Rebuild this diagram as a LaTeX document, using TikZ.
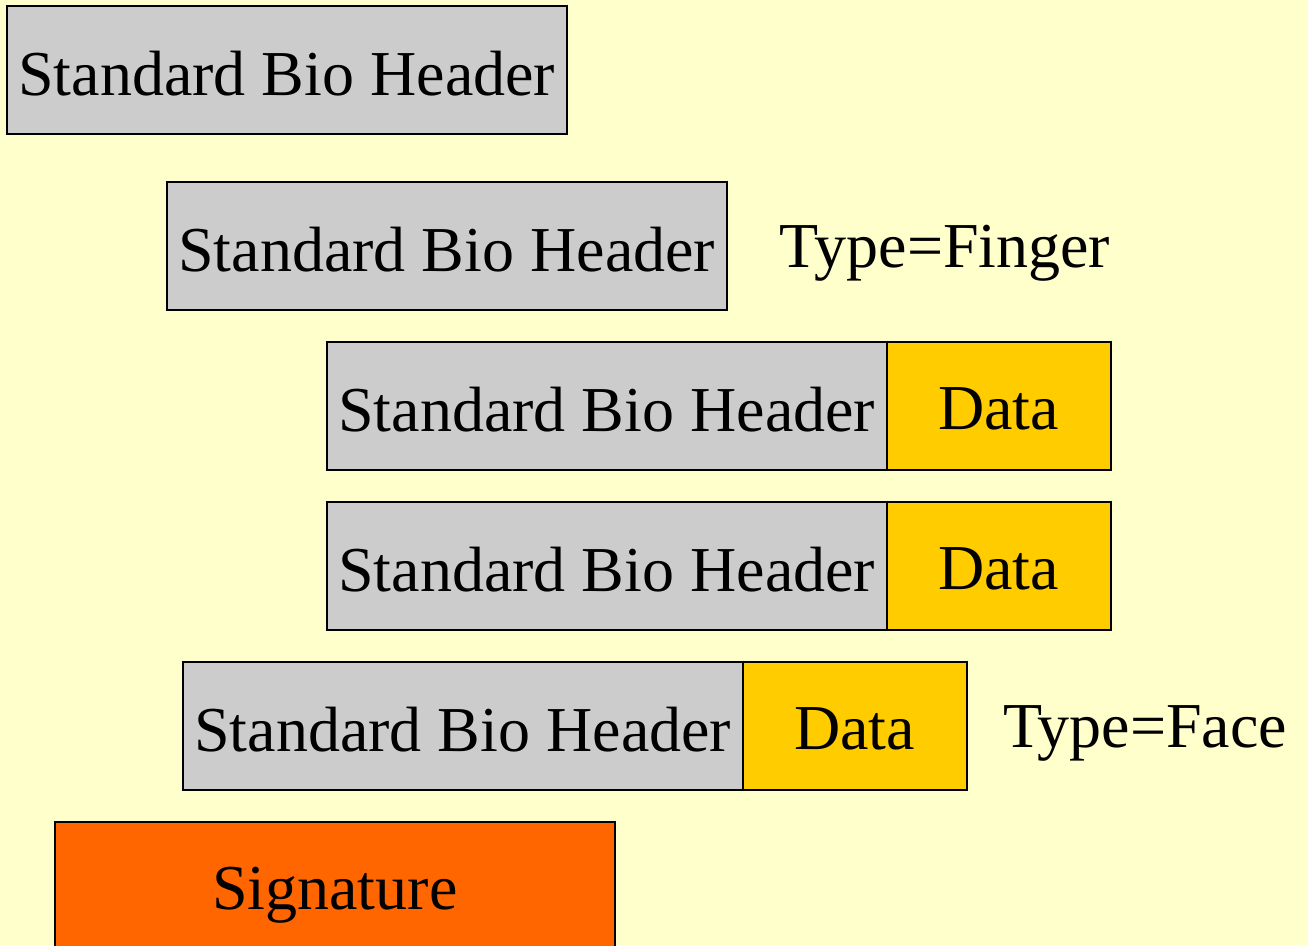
\documentclass[tikz,border=0pt]{standalone}
\usepackage{fontspec}
\setmainfont{Liberation Serif}
\definecolor{bg}{HTML}{FFFFCC}
\definecolor{hdr}{HTML}{CCCCCC}
\definecolor{dat}{HTML}{FFCC00}
\definecolor{sig}{HTML}{FF6600}
\newcommand{\dn}[1]{\raisebox{-3.5pt}[\height][\depth]{#1}}
\begin{document}
\begin{tikzpicture}[x=1pt,y=-1pt,
  box/.style={draw=black,line width=1.5pt,inner sep=0pt,anchor=north west,
    minimum height=128pt,font=\fontsize{64}{70}\selectfont},
  hdrbox/.style={box,fill=hdr,minimum width=560pt},
  datbox/.style={box,fill=dat,minimum width=224pt},
  sigbox/.style={box,fill=sig,minimum width=560pt,minimum height=139pt},
  lbl/.style={inner sep=0pt,font=\fontsize{64}{70}\selectfont}]
\useasboundingbox (0,0) rectangle (1308,945);
\clip (0,0) rectangle (1308,945);
\fill[bg] (0,0) rectangle (1308,945);
\node[hdrbox] (h1) at (6,5) {\dn{Standard Bio Header}};
\node[hdrbox] (h2) at (166,181) {\dn{Standard Bio Header}};
\node[lbl] (t1) at (945,250) {\dn{Type=Finger}};
\node[hdrbox] (h3) at (326,341) {\dn{Standard Bio Header}};
\node[datbox] (d3) at (886,341) {\dn{Data}};
\node[hdrbox] (h4) at (326,501) {\dn{Standard Bio Header}};
\node[datbox] (d4) at (886,501) {\dn{Data}};
\node[hdrbox] (h5) at (182,661) {\dn{Standard Bio Header}};
\node[datbox] (d5) at (742,661) {\dn{Data}};
\node[lbl] (t2) at (1145,730) {\dn{Type=Face}};
\node[sigbox] (s) at (54,821) {\dn{Signature}};
\end{tikzpicture}
\end{document}
